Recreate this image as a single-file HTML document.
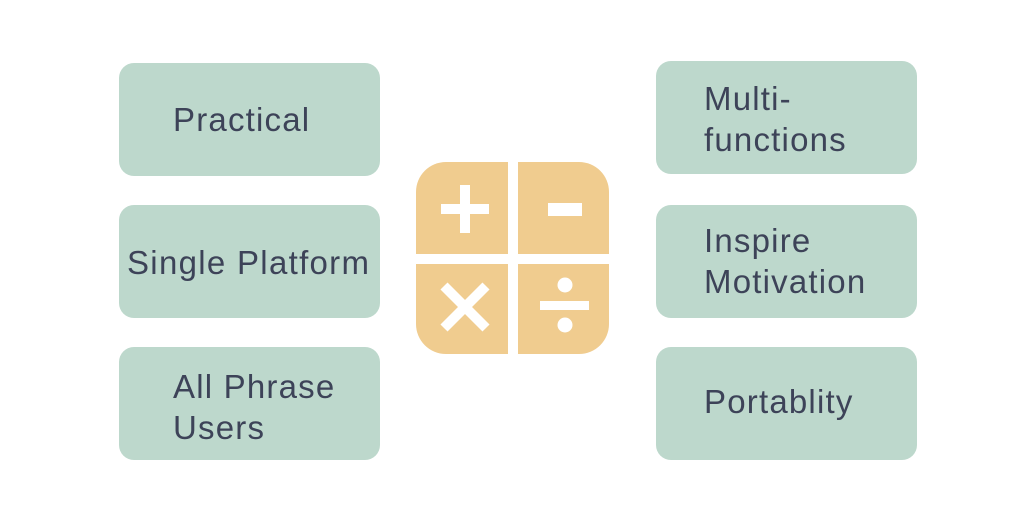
<!DOCTYPE html>
<html><head><style>
body{margin:0;width:1023px;height:525px;background:#fff;position:relative;overflow:hidden;font-family:"Liberation Sans",sans-serif}
.b{position:absolute;width:261px;height:113px;background:#bdd8cc;border-radius:15px;color:#3d4358;font-size:33px;letter-spacing:1.2px;line-height:41px;box-sizing:border-box;white-space:nowrap}
.q{position:absolute;background:#f0cc8f}
</style></head><body>
<div class="b" style="left:119px;top:63px;padding:36px 0 0 54px">Practical</div>
<div class="b" style="left:119px;top:205px;padding:37px 0 0 8px;letter-spacing:1.3px">Single Platform</div>
<div class="b" style="left:119px;top:347px;padding:19px 0 0 54px">All Phrase<br>Users</div>
<div class="b" style="left:656px;top:61px;padding:17px 0 0 48px">Multi-<br>functions</div>
<div class="b" style="left:656px;top:205px;padding:15px 0 0 48px">Inspire<br>Motivation</div>
<div class="b" style="left:656px;top:347px;padding:34px 0 0 48px">Portablity</div>
<div class="q" style="left:416px;top:162px;width:92px;height:92px;border-radius:30px 0 0 0"></div>
<div class="q" style="left:518px;top:162px;width:91px;height:92px;border-radius:0 30px 0 0"></div>
<div class="q" style="left:416px;top:264px;width:92px;height:90px;border-radius:0 0 0 30px"></div>
<div class="q" style="left:518px;top:264px;width:91px;height:90px;border-radius:0 0 30px 0"></div>
<svg style="position:absolute;left:0;top:0" width="1023" height="525">
<g fill="#fff">
<rect x="441" y="204" width="48" height="10"/><rect x="460" y="185" width="10" height="48"/>
<rect x="548" y="203" width="34" height="13"/>
<rect x="540" y="301" width="49" height="9"/>
<circle cx="565" cy="285" r="7.5"/><circle cx="565" cy="325" r="7.5"/>
</g>
<g stroke="#fff" stroke-width="10"><line x1="444" y1="286" x2="486" y2="328"/><line x1="486" y1="286" x2="444" y2="328"/></g>
</svg>
</body></html>
